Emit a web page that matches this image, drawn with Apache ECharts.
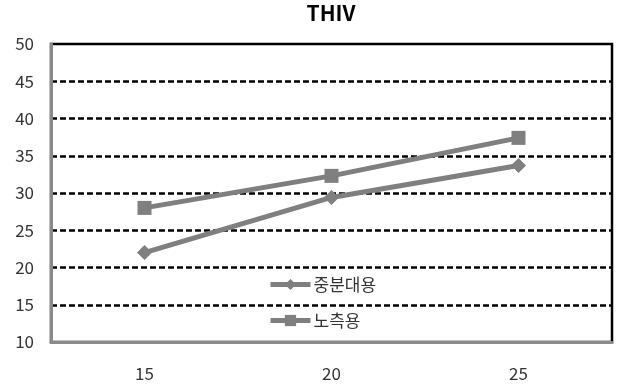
<!DOCTYPE html>
<html>
<head>
<meta charset="utf-8">
<script src="https://cdn.jsdelivr.net/npm/echarts@6/dist/echarts.min.js"></script>
<style>
  html, body { margin: 0; padding: 0; background: #fff; }
  #chart { width: 619px; height: 385px; }
</style>
</head>
<body>
<div id="chart"></div>
<script>
// Categories along the x axis
const categories = ['15', '20', '25'];
// Median-strip series (diamond markers)
const medianValues = [22.0, 29.4, 33.7];
// Roadside series (square markers)
const roadsideValues = [28.0, 32.3, 37.4];
const seriesNames = ['중분대용', '노측용'];

const FONT = '"Noto Sans CJK KR", "Noto Sans", sans-serif';
const GREY = '#7f7f7f';

const chart = echarts.init(document.getElementById('chart'));
chart.setOption({
  animation: false,
  title: {
    text: 'THIV',
    left: 326, top: -2, textAlign: 'center',
    textStyle: { fontFamily: FONT, fontSize: 21, fontWeight: 'bold', color: '#000' }
  },
  grid: {
    left: 51, right: 7, top: 44, bottom: 43,
    show: true, borderColor: '#000', borderWidth: 2.5, backgroundColor: 'transparent'
  },
  legend: {
    orient: 'vertical',
    left: 263, top: 271,
    itemGap: 19,
    itemWidth: 40, itemHeight: 14,
    lineStyle: { width: 5 },
    textStyle: { fontFamily: FONT, fontSize: 17, color: '#333', padding: [0, 0, 0, -2] },
    data: seriesNames
  },
  xAxis: {
    type: 'category',
    data: categories,
    boundaryGap: true,
    axisLine: { lineStyle: { color: '#8a8a8a', width: 3 } },
    axisTick: { show: false },
    axisLabel: { margin: 23, fontFamily: FONT, fontSize: 17, color: '#333' }
  },
  yAxis: {
    type: 'value',
    min: 10, max: 50, interval: 5,
    axisLine: { show: true, lineStyle: { color: '#8a8a8a', width: 3 } },
    axisTick: { show: false },
    axisLabel: { margin: 17, fontFamily: FONT, fontSize: 17, color: '#333' },
    splitLine: {
      show: true, showMinLine: false, showMaxLine: false,
      lineStyle: { color: '#000', width: 2.5, type: [6, 3] }
    }
  },
  series: [
    {
      name: seriesNames[0], type: 'line', data: medianValues,
      symbol: 'diamond', symbolSize: 15,
      lineStyle: { color: GREY, width: 5 },
      itemStyle: { color: GREY }
    },
    {
      name: seriesNames[1], type: 'line', data: roadsideValues,
      symbol: 'rect', symbolSize: 14,
      lineStyle: { color: GREY, width: 5 },
      itemStyle: { color: GREY }
    }
  ]
});
</script>
</body>
</html>
